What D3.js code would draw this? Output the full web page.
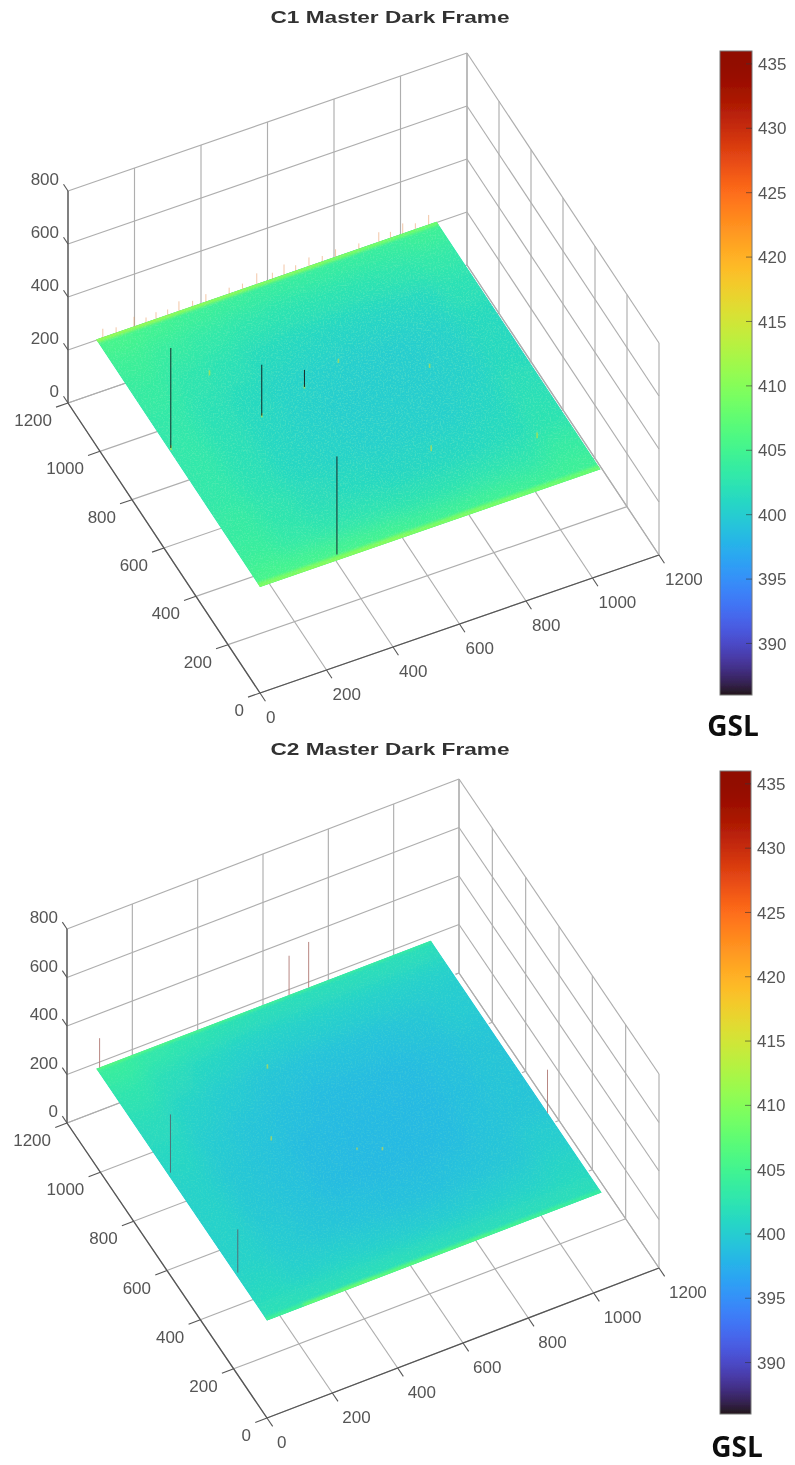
<!DOCTYPE html>
<html>
<head>
<meta charset="utf-8">
<script src="https://cdnjs.cloudflare.com/ajax/libs/d3/7.8.5/d3.min.js"></script>
<style>
  html, body { margin: 0; padding: 0; background: #fff; }
  svg { display: block; }
  text { font-family: "Liberation Sans", Arial, sans-serif; fill: #555; }
</style>
</head>
<body>
<svg id="chart" width="795" height="1465"></svg>
<script>
// tick labels
const xyTicks = [0, 200, 400, 600, 800, 1000, 1200];
const zTicks = [0, 200, 400, 600, 800];
const barTicks = [390, 395, 400, 405, 410, 415, 420, 425, 430, 435];

// plate cells: column edges and rows of GSL
const cellEdges = [0, 114, 228, 341, 455, 569, 683, 796, 910, 1024];
const rowEdges = [1024, 950, 830, 700, 570, 440, 310, 180, 70, 0];

const c1Rows = [
  [405.5, 405, 404.5, 404.2, 404, 404, 404, 404, 404.5],
  [404.2, 403.5, 403, 402.5, 402.3, 402.3, 402.3, 402.5, 403],
  [403.5, 402.5, 402, 401.3, 401, 400.8, 400.8, 401, 402],
  [403, 402, 401.3, 400.6, 400.3, 400.1, 400.1, 400.4, 401.3],
  [403, 402, 401, 400.4, 400.1, 400.1, 400.1, 400.4, 401.3],
  [403, 402, 401, 400.6, 400.3, 400.3, 400.3, 400.8, 401.8],
  [403.5, 402.5, 401.6, 401.2, 400.9, 400.9, 401, 401.4, 402.3],
  [404, 403, 402.5, 402.4, 402.2, 402.2, 402.4, 402.5, 403.5],
  [405.5, 405.5, 405.5, 405.3, 404.8, 404.8, 404.8, 404.5, 404.5],
];
const c1FarEdge = [411, 411, 410.5, 410.5, 410, 410, 409.5, 409, 408.5];
const c1NearEdge = [409.5, 410, 410, 410, 409.5, 409.5, 409, 408.5, 408];

const c2Rows = [
  [404, 403, 402.5, 402.2, 401.8, 401.8, 401.8, 401.8, 401.8],
  [402.5, 401.5, 400.8, 400.3, 400.2, 400.2, 400.2, 400.2, 400.2],
  [401.5, 400.4, 399.8, 399.3, 399, 399, 399, 399.3, 399.8],
  [401, 399.8, 399.2, 398.8, 398.5, 398.5, 398.5, 398.8, 399.3],
  [400.5, 399.5, 399, 398.5, 398.3, 398.3, 398.3, 398.8, 399.3],
  [400.5, 399.5, 399, 398.5, 398.3, 398.3, 398.5, 399, 399.3],
  [400.5, 399.8, 399.3, 399, 398.8, 398.8, 399, 399.3, 400],
  [401, 400.3, 400.3, 400, 399.8, 399.8, 400, 400.3, 400.8],
  [402, 402, 402, 402, 402, 401.8, 401.8, 401.8, 401.8],
];
const c2FarEdge = [407, 406.5, 406, 405.5, 405, 404.5, 404, 404, 404];
const c2NearEdge = [404.5, 407.5, 408, 407, 406.5, 406, 405, 404.5, 404];

// spikes as [x, y, z]
const c1PlateSpikes = [[7, 572, 777], [282, 575, 592], [433, 622, 464], [241, 20, 770]];
const c1EdgeSpikes = [
  [20, 1024, 432], [60, 1024, 420], [114, 1024, 436], [150, 1024, 418], [180, 1024, 425],
  [215, 1024, 420], [249, 1024, 436], [290, 1024, 420], [330, 1024, 428], [400, 1024, 422],
  [440, 1024, 420], [483, 1024, 440], [530, 1024, 422], [565, 1024, 438], [600, 1024, 420],
  [640, 1024, 432], [680, 1024, 420], [720, 1024, 428], [790, 1024, 420], [850, 1024, 436],
  [885, 1024, 422], [922, 1024, 438], [960, 1024, 422], [1000, 1024, 436],
];
const c1Specks = [
  [219, 771, 420], [430, 616, 416], [279, 569, 416], [4, 565, 418],
  [555, 663, 416], [639, 258, 422], [919, 178, 422], [770, 540, 416],
];

const c2PlateSpikes = [[9, 597, 642], [8, 191, 580]];
const c2EdgeSpikes = [[10, 1024, 523], [590, 1024, 564], [650, 1024, 590], [1024, 324, 580]];
const c2Specks = [[416, 813, 420], [307, 576, 420], [561, 407, 416], [500, 440, 412]];

const svg = d3.select("#chart");
const color = d3.scaleSequential(d3.interpolateTurbo).domain([386, 436]).clamp(true);

const defs = svg.append("defs");
defs
  .append("filter")
  .attr("id", "soft")
  .attr("x", "-5%")
  .attr("y", "-5%")
  .attr("width", "110%")
  .attr("height", "110%")
  .append("feGaussianBlur")
  .attr("stdDeviation", 0.45);
defs
  .append("filter")
  .attr("id", "smooth")
  .append("feGaussianBlur")
  .attr("stdDeviation", 11);
defs
  .append("filter")
  .attr("id", "edge")
  .append("feGaussianBlur")
  .attr("stdDeviation", 1.6);

// speckle texture for the pixel noise of the frame
const speckle = defs
  .append("filter")
  .attr("id", "speckle")
  .attr("x", 0)
  .attr("y", 0)
  .attr("width", 1)
  .attr("height", 1);
speckle
  .append("feTurbulence")
  .attr("type", "fractalNoise")
  .attr("baseFrequency", 0.6)
  .attr("numOctaves", 2)
  .attr("seed", 4)
  .attr("result", "noise");
speckle
  .append("feColorMatrix")
  .attr("in", "noise")
  .attr("type", "matrix")
  .attr("values", "0 0 0 0 0.3  0 0 0 0 0.88  0 0 0 0 0.5  3.5 0 0 0 -1.6")
  .attr("result", "dots");
speckle
  .append("feComposite")
  .attr("in", "dots")
  .attr("in2", "SourceAlpha")
  .attr("operator", "in");

const lineGen = d3.line();

function drawPanel(p) {
  const xPx = d3.scaleLinear().domain([0, 1200]).range([0, p.xVec[0]]);
  const xPy = d3.scaleLinear().domain([0, 1200]).range([0, p.xVec[1]]);
  const yPx = d3.scaleLinear().domain([0, 1200]).range([0, p.yVec[0]]);
  const yPy = d3.scaleLinear().domain([0, 1200]).range([0, p.yVec[1]]);
  const zPy = d3.scaleLinear().domain([0, 800]).range([0, -p.zLen]);
  const project = (x, y, z) => [
    p.origin[0] + xPx(x) + yPx(y),
    p.origin[1] + xPy(x) + yPy(y) + zPy(z),
  ];

  const root = svg.append("g");
  const soft = root.append("g").attr("filter", "url(#soft)");

  function seg(parent, a, b, stroke, width) {
    parent
      .append("path")
      .attr("d", lineGen([project(...a), project(...b)]))
      .attr("fill", "none")
      .attr("stroke", stroke)
      .attr("stroke-width", width);
  }

  // walls and floor grid
  const gridColor = "#aeaeae";
  xyTicks.forEach((t) => {
    seg(soft, [t, 0, 0], [t, 1200, 0], gridColor, 1.15);
    seg(soft, [0, t, 0], [1200, t, 0], gridColor, 1.15);
    seg(soft, [t, 1200, 0], [t, 1200, 800], gridColor, 1.15);
    seg(soft, [1200, t, 0], [1200, t, 800], gridColor, 1.15);
  });
  zTicks.forEach((t) => {
    seg(soft, [0, 1200, t], [1200, 1200, t], gridColor, 1.15);
    seg(soft, [1200, 1200, t], [1200, 0, t], gridColor, 1.15);
  });

  // axes
  const axisColor = "#555";
  seg(soft, [0, 0, 0], [1200, 0, 0], axisColor, 1.3);
  seg(soft, [0, 0, 0], [0, 1200, 0], axisColor, 1.3);
  seg(soft, [0, 1200, 0], [0, 1200, 800], axisColor, 1.3);

  xyTicks.forEach((t) => {
    seg(soft, [t, 0, 0], [t, -34, 0], axisColor, 1.1);
    seg(soft, [0, t, 0], [-36, t, 0], axisColor, 1.1);
    const xp = project(t, 0, 0);
    soft
      .append("text")
      .attr("x", xp[0] + p.xLabelDx)
      .attr("y", xp[1] + 24)
      .attr("dy", "0.36em")
      .attr("font-size", 17)
      .text(t);
    const yp = project(0, t, 0);
    soft
      .append("text")
      .attr("x", yp[0] - 16)
      .attr("y", yp[1] + 17)
      .attr("dy", "0.36em")
      .attr("text-anchor", "end")
      .attr("font-size", 17)
      .text(t);
  });
  zTicks.forEach((t) => {
    seg(soft, [0, 1200, t], [0, 1228, t], axisColor, 1.1);
    const zp = project(0, 1200, t);
    soft
      .append("text")
      .attr("x", zp[0] - 9)
      .attr("y", zp[1] - 12)
      .attr("dy", "0.36em")
      .attr("text-anchor", "end")
      .attr("font-size", 17)
      .text(t);
  });

  // the frame itself
  const corners = [[0, 0], [1024, 0], [1024, 1024], [0, 1024]].map((c) =>
    project(c[0], c[1], p.plateZ)
  );
  const clipId = "plate-" + p.id;
  defs
    .append("clipPath")
    .attr("id", clipId)
    .append("polygon")
    .attr("points", corners.join(" "));

  // white halo, the reference shows one along the high x edge
  soft
    .append("path")
    .attr("d", lineGen([corners[1], corners[2]]))
    .attr("stroke", "#fff")
    .attr("stroke-width", p.halo)
    .attr("fill", "none");

  const plate = root.append("g").attr("clip-path", `url(#${clipId})`);
  plate
    .append("polygon")
    .attr("points", corners.join(" "))
    .attr("fill", color(p.rows[4][4]));

  function cell(parent, x0, x1, y0, y1, value) {
    parent
      .append("polygon")
      .attr(
        "points",
        [
          project(x0, y0, p.plateZ),
          project(x1, y0, p.plateZ),
          project(x1, y1, p.plateZ),
          project(x0, y1, p.plateZ),
        ].join(" ")
      )
      .attr("fill", color(value));
  }

  const smooth = plate.append("g").attr("filter", "url(#smooth)");
  p.rows.forEach((row, r) => {
    row.forEach((value, c) => {
      // outer cells run past the plate so the blur keeps colour at the border
      const x0 = c === 0 ? -120 : cellEdges[c];
      const x1 = c === row.length - 1 ? 1144 : cellEdges[c + 1];
      const y0 = r === 0 ? 1144 : rowEdges[r];
      const y1 = r === p.rows.length - 1 ? -120 : rowEdges[r + 1];
      cell(smooth, x0, x1, y0, y1, value);
    });
  });

  // lime bands on the two edges of the frame
  const bands = plate.append("g").attr("filter", "url(#edge)");
  p.farEdge.forEach((value, c) => {
    const x0 = c === 0 ? -60 : cellEdges[c];
    const x1 = c === p.farEdge.length - 1 ? 1084 : cellEdges[c + 1];
    cell(bands, x0, x1, 1084, 1024 - p.farBand, value);
  });
  p.nearEdge.forEach((value, c) => {
    const x0 = c === 0 ? -60 : cellEdges[c];
    const x1 = c === p.nearEdge.length - 1 ? 1084 : cellEdges[c + 1];
    cell(bands, x0, x1, p.nearBand, -60, value);
  });

  plate
    .append("polygon")
    .attr("points", corners.join(" "))
    .attr("fill", "#000")
    .attr("filter", "url(#speckle)")
    .attr("opacity", p.noise);

  // spikes
  const spikes = root.append("g").attr("filter", "url(#soft)");
  function spike(d, stroke, width, opacity) {
    spikes
      .append("path")
      .attr("d", lineGen([project(d[0], d[1], p.plateZ), project(d[0], d[1], d[2])]))
      .attr("stroke", stroke)
      .attr("stroke-width", width)
      .attr("stroke-opacity", opacity)
      .attr("fill", "none");
  }
  p.specks.forEach((d) => spike(d, color(416), 1.6, 0.6));
  p.edgeSpikes.forEach((d) => spike(d, p.edgeSpikeColor, 1, p.edgeSpikeOpacity));
  p.plateSpikes.forEach((d) => spike(d, p.plateSpikeColor, 1, 1));

  // colour bar
  const barScale = d3.scaleLinear().domain([386, 436]).range([p.barBottom, p.barTop]);
  const gradId = "bar-" + p.id;
  const grad = defs
    .append("linearGradient")
    .attr("id", gradId)
    .attr("x1", 0)
    .attr("x2", 0)
    .attr("y1", 1)
    .attr("y2", 0);
  d3.range(386, 437, 1).forEach((v) => {
    grad
      .append("stop")
      .attr("offset", (v - 386) / 50)
      .attr("stop-color", color(v));
  });
  const bar = root.append("g").attr("filter", "url(#soft)");
  bar
    .append("rect")
    .attr("x", p.barX)
    .attr("y", p.barTop)
    .attr("width", p.barW)
    .attr("height", p.barBottom - p.barTop)
    .attr("fill", `url(#${gradId})`)
    .attr("stroke", "#777")
    .attr("stroke-width", 1);
  barTicks.forEach((t) => {
    bar
      .append("line")
      .attr("x1", p.barX + p.barW - 6)
      .attr("x2", p.barX + p.barW)
      .attr("y1", barScale(t))
      .attr("y2", barScale(t))
      .attr("stroke", "#333")
      .attr("stroke-opacity", 0.6);
    bar
      .append("text")
      .attr("x", p.barX + p.barW + 6)
      .attr("y", barScale(t))
      .attr("dy", "0.36em")
      .attr("font-size", 17)
      .text(t);
  });

  // title and unit
  soft
    .append("text")
    .attr("x", p.titleX)
    .attr("y", p.titleY)
    .attr("text-anchor", "middle")
    .attr("font-size", 17)
    .attr("font-weight", "bold")
    .attr("textLength", 239)
    .attr("lengthAdjust", "spacingAndGlyphs")
    .style("fill", "#333")
    .text(p.title);
  soft
    .append("text")
    .attr("x", p.gslX)
    .attr("y", p.gslY)
    .attr("text-anchor", "middle")
    .attr("font-size", 28)
    .attr("font-weight", "bold")
    .style("font-family", '"Open Sans", sans-serif')
    .style("fill", "#111")
    .text("GSL");
}

drawPanel({
  id: "c1",
  title: "C1 Master Dark Frame",
  titleX: 390,
  titleY: 23,
  origin: [260, 693],
  xVec: [399, -138],
  yVec: [-192, -290],
  zLen: 212,
  plateZ: 400,
  xLabelDx: 6,
  halo: 0,
  noise: 0.28,
  rows: c1Rows,
  farEdge: c1FarEdge,
  nearEdge: c1NearEdge,
  farBand: 12,
  nearBand: 16,
  plateSpikes: c1PlateSpikes,
  edgeSpikes: c1EdgeSpikes,
  specks: c1Specks,
  plateSpikeColor: "#16282a",
  edgeSpikeColor: "#e89050",
  edgeSpikeOpacity: 0.5,
  barX: 720,
  barW: 32,
  barTop: 51,
  barBottom: 695,
  gslX: 733,
  gslY: 736,
});

drawPanel({
  id: "c2",
  title: "C2 Master Dark Frame",
  titleX: 390,
  titleY: 755,
  origin: [267, 1418],
  xVec: [392, -150],
  yVec: [-200, -295],
  zLen: 194,
  plateZ: 402,
  xLabelDx: 10,
  halo: 3,
  noise: 0.14,
  rows: c2Rows,
  farEdge: c2FarEdge,
  nearEdge: c2NearEdge,
  farBand: 6,
  nearBand: 12,
  plateSpikes: c2PlateSpikes,
  edgeSpikes: c2EdgeSpikes,
  specks: c2Specks,
  plateSpikeColor: "#4f7078",
  edgeSpikeColor: "#b07a76",
  edgeSpikeOpacity: 0.9,
  barX: 720,
  barW: 31,
  barTop: 771,
  barBottom: 1414,
  gslX: 737,
  gslY: 1457,
});
</script>
</body>
</html>
